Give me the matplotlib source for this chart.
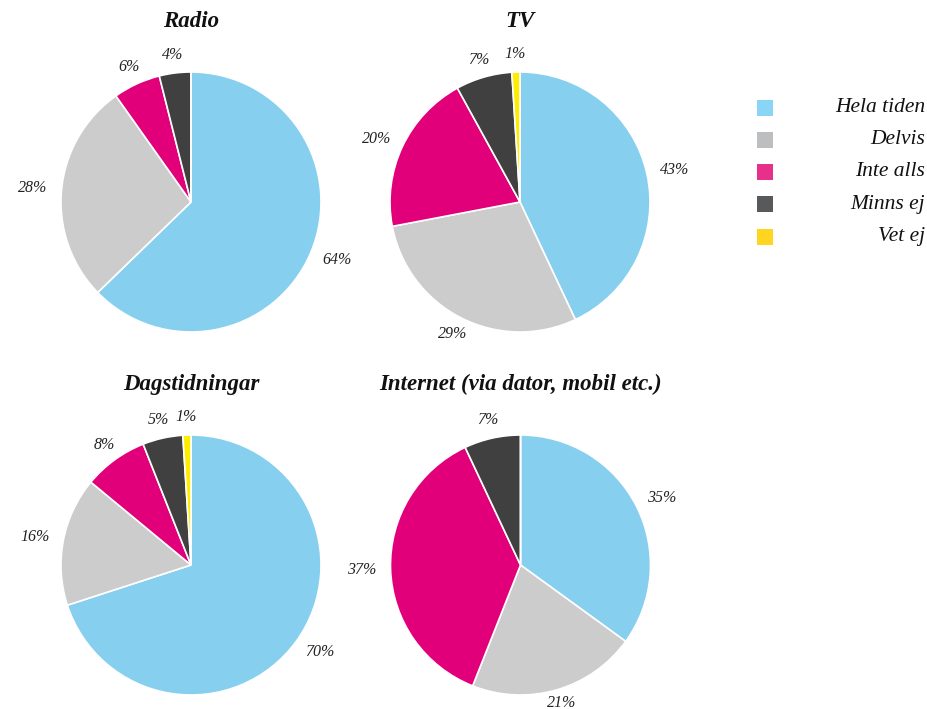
import matplotlib.pyplot as plt
from matplotlib.patches import Rectangle

# categories and values (percent, as labelled)
categories = ['Hela tiden', 'Delvis', 'Inte alls', 'Minns ej', 'Vet ej']
radio = [64, 28, 6, 4, 0]
tv = [43, 29, 20, 7, 1]
dagstidningar = [70, 16, 8, 5, 1]
internet = [35, 21, 37, 7, 0]
titles = ['Radio', 'TV', 'Dagstidningar', 'Internet (via dator, mobil etc.)']

pie_colors = ['#87cfef', '#cccccc', '#e2007a', '#404040', '#ffed00']
legend_colors = ['#8ad4f5', '#bcbec0', '#e8308a', '#58595b', '#ffd520']

W, H = 928, 709
fig = plt.figure(figsize=(W / 100, H / 100), dpi=100)
plt.rcParams['font.family'] = ['Liberation Serif', 'DejaVu Serif']

R = 130  # pie radius in px
centers = [(191, 202), (520, 202), (191, 565), (520.5, 565)]
half = 1.6

for vals, title, (cx, cy) in zip([radio, tv, dagstidningar, internet], titles, centers):
    s = half * R
    ax = fig.add_axes([(cx - s) / W, (H - cy - s) / H, 2 * s / W, 2 * s / H])
    labels = [f'{v}%' if v > 0 else '' for v in vals]
    wedges, texts = ax.pie(vals, colors=pie_colors, startangle=90, counterclock=False,
                           labels=labels, labeldistance=1.14, radius=1,
                           wedgeprops=dict(edgecolor='white', linewidth=1.2),
                           textprops=dict(fontsize=11.5, style='italic', color='#222222'))
    for t in texts:
        t.set_ha('center')
        x, y = t.get_position()
        if abs(x) > 0.85:
            t.set_x(x * 1.07)
        if y < -1.06:
            t.set_y(-1.06)
    ax.set_xlim(-half, half)
    ax.set_ylim(-half, half)
    ax.set_aspect('equal')
    ax.axis('off')
    ax.text(0, 1.385, title, ha='center', va='center', fontsize=16.5,
            fontweight='bold', style='italic', color='#111111')

# legend drawn in pixel coordinates
lax = fig.add_axes([740 / W, (H - 260) / H, 188 / W, 180 / H])
lax.set_xlim(740, 928)
lax.set_ylim(260, 80)
lax.axis('off')
row_y = [108, 140, 172, 204, 237]
for name, col, y in zip(categories, legend_colors, row_y):
    lax.add_patch(Rectangle((757, y - 8), 16, 16, facecolor=col, edgecolor='none'))
    lax.text(925, y, name, ha='right', va='center', fontsize=15.5, style='italic',
             color='#111111')

fig.savefig('out.png', dpi=100)
